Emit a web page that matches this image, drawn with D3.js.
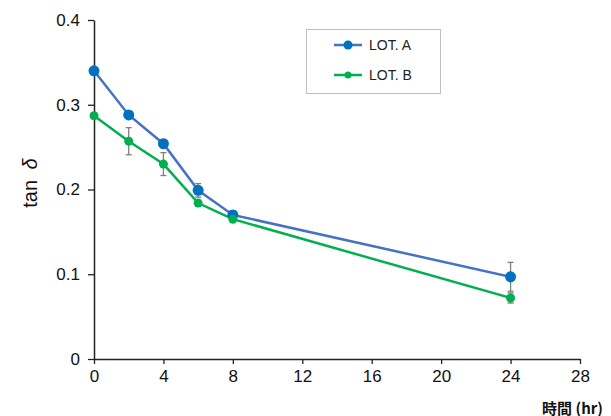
<html>
<head>
<meta charset="utf-8">
<script src="https://d3js.org/d3.v7.min.js"></script>
<style>
  body { margin: 0; background: #fff; }
  text { font-family: "Liberation Sans", Arial, sans-serif; }
</style>
</head>
<body>
<div class="chart"></div>
<script>
// data
var hours = [0, 2, 4, 6, 8, 24];
var lotA = [0.340, 0.288, 0.254, 0.199, 0.170, 0.097];
var lotAErr = [0.004, 0.003, 0.005, 0.008, 0.005, 0.017];
var lotB = [0.287, 0.257, 0.230, 0.184, 0.165, 0.072];
var lotBErr = [0.003, 0.016, 0.0135, 0.003, 0.004, 0.006];
var xTicks = [0, 4, 8, 12, 16, 20, 24, 28];
var yTicks = [0, 0.1, 0.2, 0.3, 0.4];
var seriesNames = ['LOT. A', 'LOT. B'];

var width = 611, height = 416;
var svg = d3.select('.chart').append('svg').attr('width', width).attr('height', height);

var x = d3.scaleLinear().domain([0, 28]).range([94, 580]);
var y = d3.scaleLinear().domain([0, 0.4]).range([359, 20]);

// axes
var xAxis = svg.append('g').attr('transform', 'translate(0,' + y(0) + ')')
  .call(d3.axisBottom(x).tickValues(xTicks).tickSize(5).tickSizeOuter(0).tickPadding(6));
var yAxis = svg.append('g').attr('transform', 'translate(' + x(0) + ',0)')
  .call(d3.axisLeft(y).tickValues(yTicks).tickSize(6).tickSizeOuter(0).tickPadding(8)
    .tickFormat(function(d) { return d === 0 ? '0' : d3.format('.1f')(d) }));
[xAxis, yAxis].forEach(function(g) {
  g.select('.domain').attr('stroke', '#222').attr('stroke-width', 1.5);
  g.selectAll('.tick line').attr('stroke', '#222').attr('stroke-width', 1.3);
  g.selectAll('.tick text').attr('fill', '#111').style('font-size', '17px')
    .style('font-family', '"Liberation Sans", Arial, sans-serif');
});

var series = [
  {name: seriesNames[0], vals: lotA, err: lotAErr, line: '#4472c4', dot: '#0070c0', r: 5.5},
  {name: seriesNames[1], vals: lotB, err: lotBErr, line: '#00b050', dot: '#00b050', r: 4.5}
];

var line = d3.line().x(function(d) { return x(d[0]) }).y(function(d) { return y(d[1]) });

series.forEach(function(s) {
  var pts = hours.map(function(h, i) { return [h, s.vals[i], s.err[i]] });
  svg.append('path').datum(pts).attr('d', line)
    .attr('fill', 'none').attr('stroke', s.line).attr('stroke-width', 2.5);
  var eb = svg.append('g').attr('stroke', '#7f7f7f').attr('stroke-width', 1.3);
  pts.forEach(function(p) {
    var cx = x(p[0]), y1 = y(p[1] + p[2]), y2 = y(p[1] - p[2]);
    eb.append('line').attr('x1', cx).attr('x2', cx).attr('y1', y1).attr('y2', y2);
    eb.append('line').attr('x1', cx - 3).attr('x2', cx + 3).attr('y1', y1).attr('y2', y1);
    eb.append('line').attr('x1', cx - 3).attr('x2', cx + 3).attr('y1', y2).attr('y2', y2);
  });
});
series.forEach(function(s) {
  svg.append('g').selectAll('circle').data(hours).join('circle')
    .attr('cx', function(d) { return x(d) })
    .attr('cy', function(d, i) { return y(s.vals[i]) })
    .attr('r', s.r).attr('fill', s.dot);
});

// legend
var lg = svg.append('g');
lg.append('rect').attr('x', 306.5).attr('y', 29.5).attr('width', 134).attr('height', 64)
  .attr('fill', '#fff').attr('stroke', '#bfbfbf');
series.forEach(function(s, i) {
  var ly = 45 + i * 30;
  lg.append('line').attr('x1', 334).attr('x2', 362).attr('y1', ly).attr('y2', ly)
    .attr('stroke', s.line).attr('stroke-width', 2.5);
  lg.append('circle').attr('cx', 348).attr('cy', ly).attr('r', s.r - 1).attr('fill', s.dot);
  lg.append('text').attr('x', 369).attr('y', ly + 5).style('font-size', '14px').attr('fill', '#222')
    .text(s.name);
});

// axis titles
var yt = svg.append('text').attr('transform', 'translate(37,183) rotate(-90)')
  .attr('text-anchor', 'middle').style('font-size', '20px').attr('fill', '#111');
yt.append('tspan').text('tan ');
yt.append('tspan').attr('dx', 5).style('font-style', 'italic').text('δ');
svg.append('text').attr('x', 603).attr('y', 414).attr('text-anchor', 'end')
  .style('font-size', '15px').style('font-weight', 'bold').attr('fill', '#111')
  .style('font-family', '"Noto Sans CJK JP", sans-serif')
  .text('時間 (hr)');
</script>
</body>
</html>
